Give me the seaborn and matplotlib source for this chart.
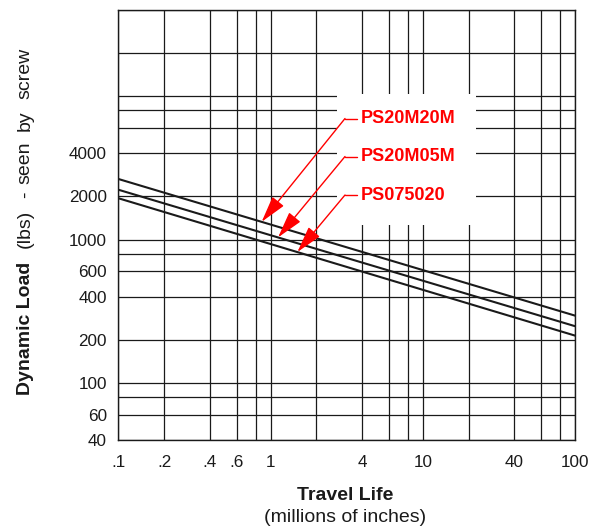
import numpy as np
import pandas as pd
import matplotlib
matplotlib.use('Agg')
import matplotlib.pyplot as plt
import seaborn as sns
from matplotlib.patches import Rectangle
from matplotlib.ticker import FixedLocator, FixedFormatter, NullFormatter

# ---- data ----
series = ['PS20M20M', 'PS20M05M', 'PS075020']
travel_life = [0.1, 100]
load_ps20m20m = [2650, 295]
load_ps20m05m = [2230, 249]
load_ps075020 = [1945, 214]
arrow_x = [0.874, 1.12, 1.50]

x_ticks = [0.1, 0.2, 0.4, 0.6, 1, 4, 10, 40, 100]
x_ticklabels = ['.1', '.2', '.4', '.6', '1', '4', '10', '40', '100']
x_minor = [0.8, 2, 6, 8, 20, 60, 80]
y_ticks = [40, 60, 100, 200, 400, 600, 1000, 2000, 4000]
y_ticklabels = ['40', '60', '100', '200', '400', '600', '1000', '2000', '4000']
y_minor = [80, 800, 6000, 8000, 10000, 20000, 40000]

sns.set_style('white')
plt.rcParams['font.family'] = ['Liberation Sans', 'DejaVu Sans']

W, H = 598, 527
fig = plt.figure(figsize=(W / 100, H / 100), dpi=100)
L, R, T, B = 118.3, 575, 10, 440
ax = fig.add_axes([L / W, 1 - B / H, (R - L) / W, (B - T) / H])

loads = [load_ps20m20m, load_ps20m05m, load_ps075020]
df = pd.DataFrame({
    'life': travel_life * 3,
    'load': load_ps20m20m + load_ps20m05m + load_ps075020,
    'series': np.repeat(series, len(travel_life)),
})
sns.lineplot(data=df, x='life', y='load', hue='series', palette=['#1a1a1a'] * 3,
             linewidth=1.5, legend=False, ax=ax, zorder=3)

ax.set_xscale('log')
ax.set_yscale('log')
ax.set_xlim(0.1, 100)
ax.set_ylim(40, 40000)
ax.xaxis.set_major_locator(FixedLocator(x_ticks))
ax.xaxis.set_major_formatter(FixedFormatter(x_ticklabels))
ax.xaxis.set_minor_locator(FixedLocator(x_minor))
ax.xaxis.set_minor_formatter(NullFormatter())
ax.yaxis.set_major_locator(FixedLocator(y_ticks))
ax.yaxis.set_major_formatter(FixedFormatter(y_ticklabels))
ax.yaxis.set_minor_locator(FixedLocator(y_minor))
ax.yaxis.set_minor_formatter(NullFormatter())
ax.tick_params(which='both', length=0)
ax.tick_params(axis='x', pad=10.5, labelsize=12.3, colors='#1a1a1a')
ax.tick_params(axis='y', pad=8.3, labelsize=12.3, colors='#1a1a1a')
ax.grid(True, which='both', color='#1a1a1a', linewidth=0.9, zorder=0)
ax.set_axisbelow(True)
for s in ax.spines.values():
    s.set_color('#1a1a1a')
    s.set_linewidth(1.0)
ax.set_xlabel('')
ax.set_ylabel('')

# white box behind the labels
def ax_frac(px, py):
    return ((px - L) / (R - L), 1 - (py - T) / (B - T))

x0, y0 = ax_frac(337, 225)
x1, y1 = ax_frac(476, 94)
ax.add_patch(Rectangle((x0, y0), x1 - x0, y1 - y0, transform=ax.transAxes,
                       facecolor='white', edgecolor='none', zorder=2))

# labels with arrows
text_py = [118.5, 156.5, 195]
for name, load, ax_x, py in zip(series, loads, arrow_x, text_py):
    tip_y = 10 ** np.interp(np.log10(ax_x), np.log10(travel_life), np.log10(load))
    cx, cy = ax_frac(345, py)
    ex, _ = ax_frac(357, py)
    tx, _ = ax_frac(361, py)
    ax.plot([cx, ex], [cy, cy], transform=ax.transAxes, color='red', lw=1.0, zorder=4)
    ax.annotate('', xy=(ax_x, tip_y), xycoords='data', xytext=(cx, cy),
                textcoords='axes fraction',
                arrowprops=dict(arrowstyle='-|>,head_length=1.1,head_width=0.3',
                                color='red', lw=1.0, mutation_scale=15,
                                shrinkA=0, shrinkB=0), zorder=4)
    ax.text(tx, cy, name, transform=ax.transAxes, color='red', fontsize=13,
            fontweight='bold', ha='left', va='center', zorder=5)

# axis titles
fig.text(345 / W, 1 - 495 / H, 'Travel Life', ha='center', va='center',
         fontsize=14, fontweight='bold', color='#1a1a1a')
fig.text(345 / W, 1 - 517 / H, '(millions of inches)', ha='center', va='center',
         fontsize=14, color='#1a1a1a')

yx = 25 / W
fig.text(yx, 1 - 395 / H, 'Dynamic Load', rotation=90, ha='center', va='bottom',
         fontsize=14, fontweight='bold', color='#1a1a1a')
fig.text(yx, 1 - 248 / H, '(lbs)', rotation=90, ha='center', va='bottom',
         fontsize=14, color='#1a1a1a')
fig.text(yx, 1 - 198 / H, '-', rotation=90, ha='center', va='bottom',
         fontsize=14, color='#1a1a1a')
fig.text(yx, 1 - 184 / H, 'seen', rotation=90, ha='center', va='bottom',
         fontsize=14, color='#1a1a1a')
fig.text(yx, 1 - 131 / H, 'by', rotation=90, ha='center', va='bottom',
         fontsize=14, color='#1a1a1a')
fig.text(yx, 1 - 99 / H, 'screw', rotation=90, ha='center', va='bottom',
         fontsize=14, color='#1a1a1a')

fig.savefig('out.png', dpi=100)
